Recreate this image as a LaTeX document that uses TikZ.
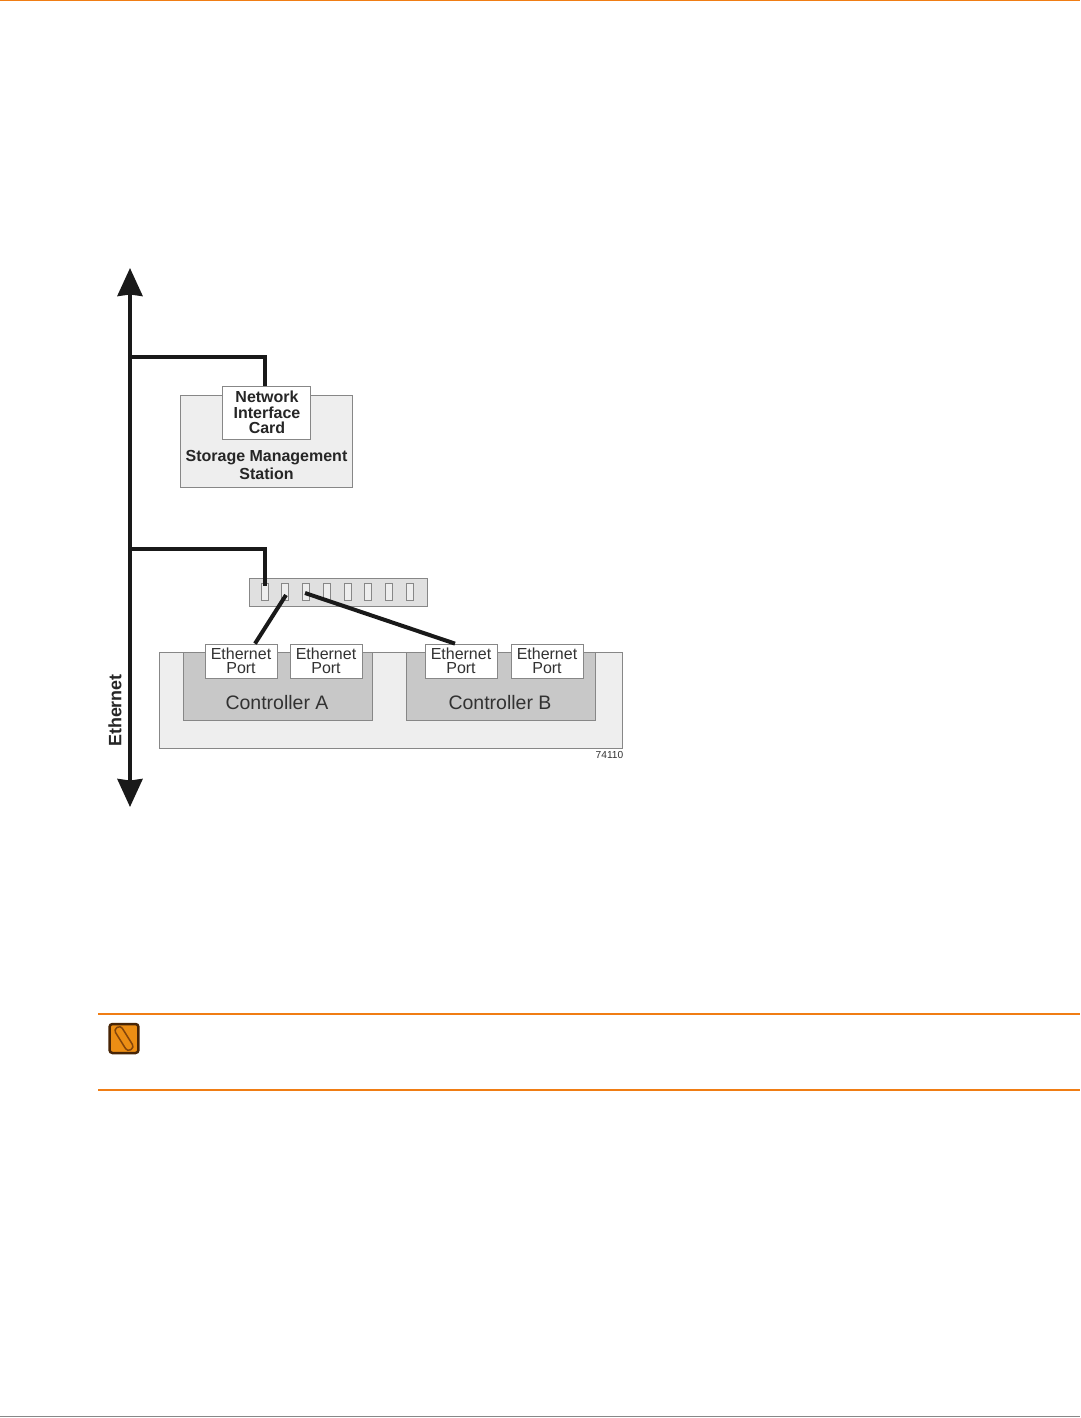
\documentclass[tikz,border=0pt]{standalone}
\usepackage{fontspec}
\setmainfont{Liberation Sans}
\usetikzlibrary{arrows.meta,positioning,calc}
\definecolor{rulered}{RGB}{240,125,20}
\definecolor{iconfill}{RGB}{236,142,20}
\definecolor{boxedge}{RGB}{135,135,135}
\definecolor{boxpale}{RGB}{238,238,238}
\definecolor{boxmid}{RGB}{200,200,200}
\definecolor{boxsw}{RGB}{224,224,224}
\definecolor{inktext}{RGB}{50,50,50}
\tikzset{wire/.style={line width=0.08cm,draw=black!90},
  trunk/.style={line width=0.075cm,draw=black!90,{Stealth[length=0.56cm,width=0.5cm,inset=0.03cm]}-{Stealth[length=0.56cm,width=0.5cm,inset=0.03cm]}},
  plate/.style={draw=boxedge,line width=0.45pt,fill=boxpale,inner sep=0pt},
  ctrl/.style={plate,fill=boxmid,minimum width=3.78cm,minimum height=1.36cm},
  card/.style={plate,fill=white,align=center,inner sep=0pt},
  ethport/.style={card,minimum width=1.44cm,minimum height=0.68cm,font=\fontsize{9.1}{8.2}\selectfont,text=inktext},
  slot/.style={plate,fill=boxpale,minimum width=0.14cm,minimum height=0.33cm},
  boldtxt/.style={align=center,inner sep=0pt,font=\fontsize{9.1}{10.2}\selectfont\bfseries,text=black!85},
  ctrltxt/.style={inner sep=0pt,font=\fontsize{11.1}{13}\selectfont,text=inktext},
  rulerline/.style={draw=rulered,line width=0.035cm}}
\begin{document}
\begin{tikzpicture}[x=0.02cm,y=-0.02cm]
\useasboundingbox (0,0) rectangle (1080,1418);
% page rules
\coordinate (topl) at (0,0.5);
\coordinate (topr) at (1080,0.5);
\coordinate (footl) at (0,1416.5);
\coordinate (footr) at (1080,1416.5);
\draw[rulered,line width=0.03cm] (topl)--(topr);
\draw[boxedge,line width=0.03cm] (footl)--(footr);
% station
\node[plate,minimum width=3.44cm,minimum height=1.84cm] (station) at (266,441) {};
\node[card,minimum width=1.76cm,minimum height=1.06cm] (nic) at (266,412.5) {};
\node[boldtxt,font=\fontsize{9.1}{8.9}\selectfont\bfseries] (niclabel) at (267,412.5) {Network\\Interface\\Card};
\node[boldtxt] (stationlabel) at (266.5,465) {Storage Management\\Station};
% switch with its eight slots
\node[plate,fill=boxsw,minimum width=3.56cm,minimum height=0.56cm] (switch) at (338,592) {};
\foreach \sx [count=\si] in {265,285,306,327,348,368,389,410}
  \node[slot] (slot\si) at (\sx,592) {};
% enclosure
\node[plate,minimum width=9.26cm,minimum height=1.92cm] (tray) at (390.5,700) {};
\node[ctrl] (ctrla) at (277.5,686) {};
\node[ctrl] (ctrlb) at (500.5,686) {};
\node[ctrltxt] (ctrlalabel) at (277,703) {Controller A};
\node[ctrltxt] (ctrlblabel) at (500,703) {Controller B};
\node[ethport] (porta) at (241,661) {\raisebox{0.3pt}{\shortstack{Ethernet\\[-1.6pt]Port}}};
\node[ethport] (portb) at (326,661) {\raisebox{0.3pt}{\shortstack{Ethernet\\[-1.6pt]Port}}};
\node[ethport] (portc) at (461,661) {\raisebox{0.3pt}{\shortstack{Ethernet\\[-1.6pt]Port}}};
\node[ethport] (portd) at (547,661) {\raisebox{0.3pt}{\shortstack{Ethernet\\[-1.6pt]Port}}};
\node[inner sep=0pt,font=\fontsize{5.8}{6}\selectfont,text=inktext] (figno) at (609.5,755) {74110};
% ethernet trunk and branches
\coordinate (trunktop) at (130,268);
\coordinate (trunkbot) at (130,807);
\coordinate (branchs) at (130,357);
\coordinate (branchw) at (130,549);
\draw[trunk] (trunktop)--(trunkbot);
\node[rotate=90,inner sep=0pt,font=\fontsize{10.2}{11}\selectfont\bfseries,text=black!85] (ethlabel) at (115,710.5) {Ethernet};
\draw[wire] (branchs)-|($(nic.north)+(-1,0)$);
\draw[wire] (branchw)-|($(slot1.center)+(0,-6)$);
\draw[wire] ($(slot2.center)+(1,3)$)--($(porta.north)+(14,0)$);
\draw[wire] ($(slot3.center)+(-1,1)$)--($(portc.north)+(-6,0)$);
% note block
\coordinate (notetopl) at (98,1014);
\coordinate (notetopr) at (1080,1014);
\coordinate (notebotl) at (98,1090);
\coordinate (notebotr) at (1080,1090);
\draw[rulerline] (notetopl)--(notetopr);
\draw[rulerline] (notebotl)--(notebotr);
\node[draw=black!70!rulered,line width=0.05cm,fill=iconfill,rounded corners=0.06cm,minimum size=0.58cm,inner sep=0pt] (noteicon) at (124,1038.5) {};
\draw[black!45!rulered,line width=0.03cm,rounded corners=0.07cm,rotate around={-58:(noteicon.center)}] ($(noteicon.center)+(-13,-4)$) rectangle ($(noteicon.center)+(13,4)$);
\end{tikzpicture}
\end{document}
